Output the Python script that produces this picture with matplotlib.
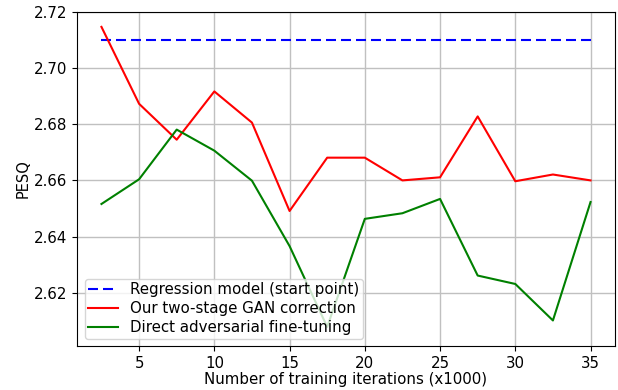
import matplotlib
matplotlib.use("Agg")
import matplotlib.pyplot as plt

iterations = [2.5, 5, 7.5, 10, 12.5, 15, 17.5, 20, 22.5, 25, 27.5, 30, 32.5, 35]
regression_pesq = [2.710] * len(iterations)
two_stage_pesq = [2.7147, 2.6873, 2.6745, 2.6917, 2.6806, 2.6491, 2.6681, 2.6681,
                  2.6600, 2.6611, 2.6828, 2.6597, 2.6621, 2.6600]
direct_pesq = [2.6516, 2.6604, 2.6781, 2.6706, 2.6599, 2.6366, 2.6078, 2.6463,
               2.6483, 2.6534, 2.6261, 2.6231, 2.6101, 2.6523]
x_ticks = [5, 10, 15, 20, 25, 30, 35]
y_ticks = [2.62, 2.64, 2.66, 2.68, 2.70, 2.72]

fig = plt.figure(figsize=(6.18, 3.9), dpi=100)
ax = fig.add_axes([77 / 618, 1 - 346 / 390, (615 - 77) / 618, (346 - 12) / 390])

ax.plot(iterations, regression_pesq, color="blue", linestyle="--", dashes=(4.8, 2.4),
        linewidth=1.5, label="Regression model (start point)")
ax.plot(iterations, two_stage_pesq, color="red", linewidth=1.5,
        label="Our two-stage GAN correction")
ax.plot(iterations, direct_pesq, color="green", linewidth=1.5,
        label="Direct adversarial fine-tuning")

ax.set_xlim(0.875, 36.625)
ax.set_ylim(2.601, 2.72)
ax.set_xticks(x_ticks)
ax.set_yticks(y_ticks)
ax.set_yticklabels([f"{v:.2f}" for v in y_ticks])
ax.grid(True, color="#c0c0c0", linewidth=1.0)
ax.tick_params(labelsize=10.8)
ax.set_xlabel("Number of training iterations (x1000)", fontsize=10.8, labelpad=1)
ax.set_ylabel("PESQ", fontsize=10.5, labelpad=2)
ax.legend(loc="lower left", fontsize=10.8, framealpha=0.8, borderaxespad=0.5,
          handlelength=2.0, labelspacing=0.25, borderpad=0.25)

fig.savefig("out.png", dpi=100)
